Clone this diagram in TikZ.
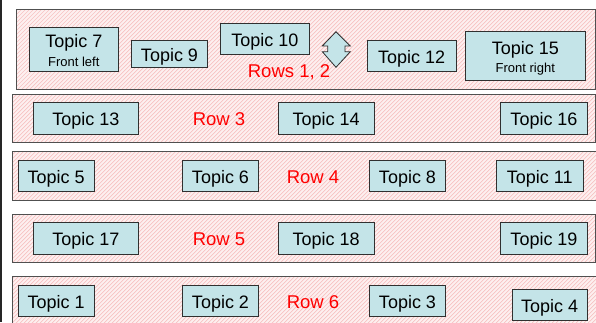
\documentclass[tikz,border=0pt]{standalone}
\usepackage{fontspec}
\setmainfont{Liberation Sans}
\definecolor{topicfill}{HTML}{C4E4E8}
\definecolor{topicline}{HTML}{303030}
\definecolor{rowline}{HTML}{505050}
\definecolor{hatchpink}{HTML}{F7C2C2}
\definecolor{rowpink}{HTML}{FDF0F0}
\begin{document}
\begin{tikzpicture}[x=1pt,y=-1pt,
  topic/.style={draw=topicline, fill=topicfill, line width=0.8pt, inner sep=0pt,
    font=\fontsize{18}{20}\selectfont, text=black, align=center},
  topicone/.style={topic, text height=15.2pt, text depth=0pt},
  rowlabel/.style={text=red, font=\fontsize{18.5}{20}\selectfont, inner sep=0pt},
  rowbox/.style={draw=rowline, line width=0.9pt},
  hatch/.style={draw=hatchpink, line width=0.7pt}]
\useasboundingbox (0,0) rectangle (596,322);

% row bands: light pink fill with fine diagonal hatching
\fill[rowpink] (16,9.3) rectangle (595,89.3)
               (12,94) rectangle (595,142.7)
               (12,151.7) rectangle (600,200.7)
               (12,214) rectangle (595,262.7)
               (12,276) rectangle (600,330);
\begin{scope}
  \clip (16,9.3) rectangle (595,89.3)
        (12,94) rectangle (595,142.7)
        (12,151.7) rectangle (600,200.7)
        (12,214) rectangle (595,262.7)
        (12,276) rectangle (600,330);
  \foreach \k in {-340,-336,...,600}
    \draw[hatch] (\k,335) -- (\k+345,-10);
\end{scope}
\draw[rowbox] (16,9.3) rectangle (595,89.3);
\draw[rowbox] (12,94) rectangle (595,142.7);
\draw[rowbox] (12,151.7) rectangle (600,200.7);
\draw[rowbox] (12,214) rectangle (595,262.7);
\draw[rowbox] (12,276) rectangle (600,330);

% left margin rule
\draw[line width=1.2pt, black!85] (1,0) -- (1,322);

% rows 1 and 2
\node[topic, minimum width=89pt, minimum height=44.4pt] (t7) at (73.8,49.5)
  {\rule{0pt}{15.5pt}Topic 7\\[-1.6pt]{\fontsize{13}{15}\selectfont Front left}};
\node[topicone, minimum width=75.6pt, minimum height=26.6pt] (t9) at (169.5,54) {Topic 9};
\node[topicone, minimum width=88.3pt, minimum height=30.7pt] (t10) at (264.85,38.65) {Topic 10};
\node[topicone, minimum width=88.7pt, minimum height=31pt] (t12) at (411.65,56.2) {Topic 12};
\node[topic, minimum width=120pt, minimum height=48.6pt] (t15) at (525.3,56)
  {\rule{0pt}{17pt}Topic 15\\[-2pt]{\fontsize{13}{15}\selectfont Front right}};
\node[rowlabel] (r12) at (289,72) {Rows 1, 2};
\draw[draw=topicline, fill=topicfill, line width=0.8pt]
  (336,31.7) -- (350.3,46) -- (345,46) -- (345,51.7) -- (350.3,51.7) -- (336,67.3)
  -- (322.3,51.7) -- (327.7,51.7) -- (327.7,46) -- (322.3,46) -- cycle;

% row 3
\node[topicone, minimum width=105pt, minimum height=31.3pt] (t13) at (85.8,118.35) {Topic 13};
\node[rowlabel] (r3) at (219,119.3) {Row 3};
\node[topicone, minimum width=95.7pt, minimum height=31.3pt] (t14) at (326.15,118.35) {Topic 14};
\node[topicone, minimum width=86.6pt, minimum height=31.3pt] (t16) at (544,118.35) {Topic 16};

% row 4
\node[topicone, minimum width=75.7pt, minimum height=31pt] (t5) at (56.15,176.2) {Topic 5};
\node[topicone, minimum width=75.6pt, minimum height=31pt] (t6) at (220.5,176.2) {Topic 6};
\node[rowlabel] (r4) at (313,177.3) {Row 4};
\node[topicone, minimum width=76.4pt, minimum height=31pt] (t8) at (407.5,176.2) {Topic 8};
\node[topicone, minimum width=87pt, minimum height=31pt] (t11) at (539.8,176.2) {Topic 11};

% row 5
\node[topicone, minimum width=105pt, minimum height=31.3pt] (t17) at (85.8,238.35) {Topic 17};
\node[rowlabel] (r5) at (219,239.3) {Row 5};
\node[topicone, minimum width=95.7pt, minimum height=31.3pt] (t18) at (326.15,238.35) {Topic 18};
\node[topicone, minimum width=86.6pt, minimum height=31.3pt] (t19) at (544,238.35) {Topic 19};

% row 6
\node[topicone, minimum width=75.7pt, minimum height=31.4pt] (t1) at (56.15,301) {Topic 1};
\node[topicone, minimum width=75.6pt, minimum height=31.4pt] (t2) at (220.5,301) {Topic 2};
\node[rowlabel] (r6) at (313,301.7) {Row 6};
\node[topicone, minimum width=76.4pt, minimum height=31.4pt] (t3) at (407.5,301) {Topic 3};
\node[topicone, minimum width=75.3pt, minimum height=31.4pt] (t4) at (549.65,305) {Topic 4};
\end{tikzpicture}
\end{document}
